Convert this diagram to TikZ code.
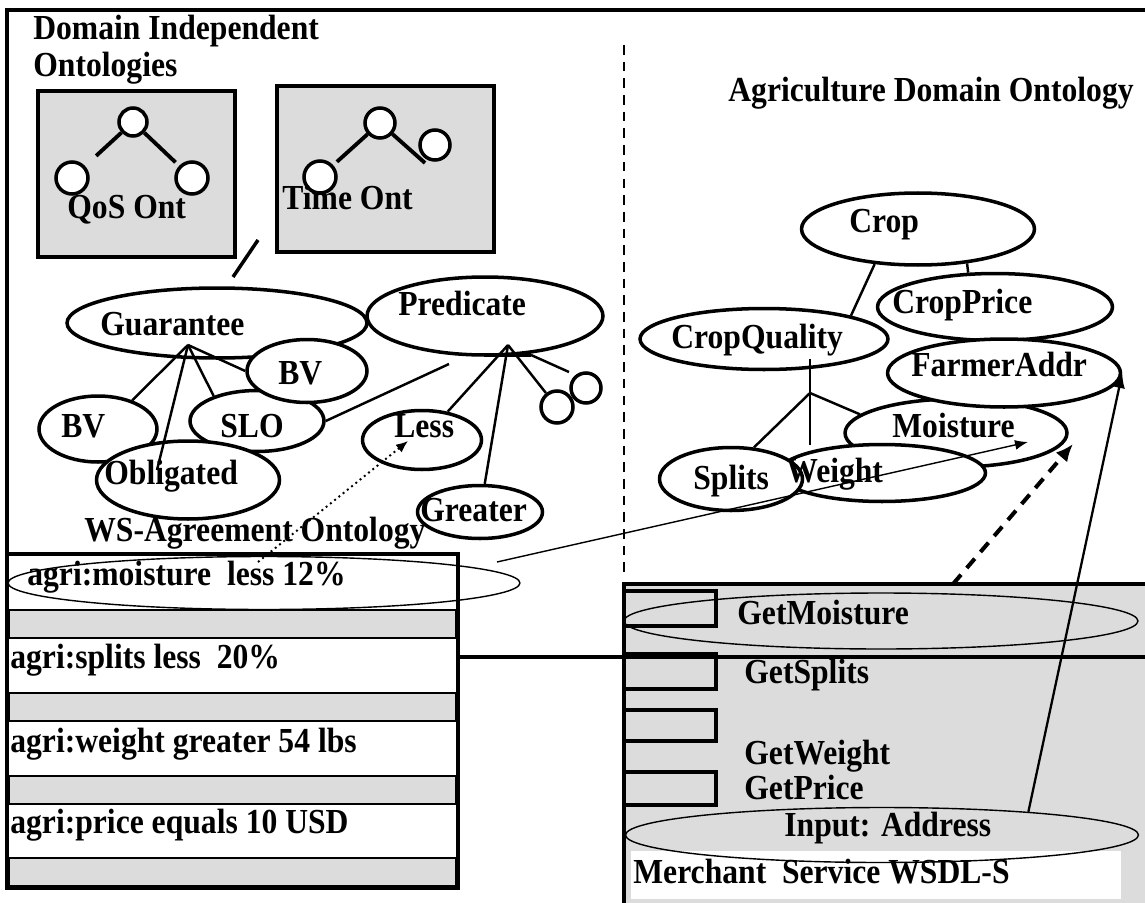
\documentclass[tikz,border=0pt]{standalone}
\usepackage{fontspec}
\setmainfont[FakeStretch=0.9]{Liberation Serif}
\usetikzlibrary{arrows.meta}
\usetikzlibrary{shapes.geometric}
\definecolor{boxgray}{RGB}{220,220,220}

\begin{document}
\begin{tikzpicture}[x=0.02cm, y=-0.02cm,
    lbl/.style={anchor=base west, inner sep=0pt, font=\bfseries\fontsize{20}{23}\selectfont},
    oval/.style 2 args={ellipse, draw, fill=white, line width=2pt, inner sep=0pt, minimum width=#1cm, minimum height=#2cm},
    thinoval/.style 2 args={ellipse, draw, line width=0.8pt, inner sep=0pt, minimum width=#1cm, minimum height=#2cm},
    onode/.style={circle, draw, fill=white, line width=2pt, inner sep=0pt, minimum size=#1cm},
    ontobox/.style={draw, fill=boxgray, line width=2.3pt},
    link/.style={line width=1.4pt},
    frame/.style={line width=2.3pt}
  ]
    \useasboundingbox (0,0) rectangle (1145,902);

    \draw[frame] (7,554) -- (7,10) -- (1150,10);
    \coordinate (dv-top) at (624,45);
    \coordinate (dv-bot) at (624,577);
    \draw[line width=0.9pt, dash pattern=on 5.5pt off 4pt] (dv-top) -- (dv-bot);

    \node[lbl] (dio1) at (33,40) {Domain Independent};
    \node[lbl] (dio2) at (33,77) {Ontologies};
    \node[lbl] (ado) at (728,102) {Agriculture Domain Ontology};

    \draw[ontobox] (38,91) rectangle (235,257);
    \draw[ontobox] (277,86) rectangle (494,252);
    \node[onode=0.56] (q0) at (133,122) {};
    \node[onode=0.64] (q1) at (72,178) {};
    \node[onode=0.64] (q2) at (192,178) {};
    \draw[line width=2.2pt, shorten >=0.3cm] (q0) -- (q1);
    \draw[line width=2.2pt, shorten >=0.1cm] (q0) -- (q2);
    \node[onode=0.6] (t0) at (380,123) {};
    \node[onode=0.64] (t1) at (320,177) {};
    \node[onode=0.6] (t2) at (435,145) {};
    \coordinate (t2foot) at (425,163);
    \draw[line width=2.2pt, shorten >=0.1cm] (t0) -- (t1);
    \draw[line width=2.2pt] (t0) -- (t2foot);
    \node[lbl] (qos-l) at (67,218) {QoS Ont};
    \node[lbl] (time-l) at (282,210) {Time Ont};
    \coordinate (sl-a) at (258,240);
    \coordinate (sl-b) at (233,277);
    \draw[line width=2pt] (sl-a) -- (sl-b);

    \node[oval={6.0}{1.4}] (guar) at (217,323) {};
    \node[oval={4.72}{1.56}] (pred) at (485,316) {};
    \node[oval={2.68}{1.22}] (slo) at (257,421) {};
    \node[oval={2.36}{1.32}] (bvl) at (98,429) {};
    \node[oval={2.4}{1.26}] (bvu) at (307,371) {};
    \node[oval={3.66}{1.56}] (obl) at (188,480) {};
    \node[oval={2.38}{1.18}] (less) at (422,440) {};
    \node[oval={2.5}{1.06}] (grt) at (480,512) {};
    \node[onode=0.64] (c1) at (557,407) {};
    \node[onode=0.6] (c2) at (586,388) {};

    \coordinate (gapex) at (188,345);
    \coordinate (obl-in) at (157,470);
    \draw[link] (gapex) -- (bvl.40);
    \draw[link] (gapex) -- (obl-in);
    \draw[link] (gapex) -- (slo.150);
    \draw[link] (gapex) -- (bvu.west);
    \coordinate (papex) at (508,345);
    \coordinate (pbar-l) at (484,355);
    \coordinate (pbar-r) at (531,355);
    \coordinate (c2-in) at (569,372);
    \coordinate (sp-end) at (449,364);
    \draw[link] (papex) -- (less);
    \draw[link] (papex) -- (grt);
    \draw[link] (papex) -- (c1);
    \draw[frame] (pbar-l) -- (pbar-r);
    \draw[link] (pbar-r) -- (c2-in);
    \draw[link] (slo.east) -- (sp-end);

    \node[lbl] (guar-l) at (100,335) {Guarantee};
    \node[lbl] (pred-l) at (398,315) {Predicate};
    \node[lbl] (bvu-l) at (278,384) {BV};
    \node[lbl] (bvl-l) at (61,437) {BV};
    \node[lbl] (slo-l) at (220,437) {SLO};
    \node[lbl] (obl-l) at (104,484) {Obligated};
    \node[lbl] (less-l) at (394,437) {Less};
    \node[lbl] (grt-l) at (420,521) {Greater};
    \node[lbl] (wsa-l) at (84,541) {WS-Agreement Ontology};

    \node[oval={4.66}{1.44}] (crop) at (918,229) {};
    \node[oval={4.96}{1.22}] (cqual) at (764,339) {};
    \node[oval={4.7}{1.34}] (cprice) at (995,307) {};
    \node[oval={4.44}{1.36}] (moist) at (956,433) {};
    \node[oval={4.66}{1.36}] (farmer) at (1004,373) {};
    \node[oval={4.14}{1.14}] (weight) at (882,473) {};
    \node[oval={2.86}{1.26}] (splits) at (731,479) {};

    \coordinate (cq-top) at (810,359);
    \coordinate (cq-mid) at (810,393);
    \coordinate (cq-bot) at (810,445);
    \draw[link] (crop.219) -- (cqual.15);
    \draw[link] (crop.325) -- (cprice.128);
    \draw[link] (cq-top) -- (cq-bot);
    \draw[link] (cq-mid) -- (splits.54);
    \draw[link] (cq-mid) -- (moist.169);

    \node[lbl] (crop-l) at (849,233) {Crop};
    \node[lbl] (cprice-l) at (892,313) {CropPrice};
    \node[lbl] (cqual-l) at (671,348) {CropQuality};
    \node[lbl] (farmer-l) at (911,376) {FarmerAddr};
    \node[lbl] (moist-l) at (892,437) {Moisture};
    \node[lbl] (weight-l) at (786,482) {Weight};
    \node[lbl] (splits-l) at (693,489) {Splits};

    \draw[line width=2pt] (7,554) rectangle (458,888);
    \draw[fill=boxgray, line width=1pt] (9,610) rectangle (456,638);
    \draw[fill=boxgray, line width=1pt] (9,693) rectangle (456,721);
    \draw[fill=boxgray, line width=1pt] (9,776) rectangle (456,804);
    \draw[fill=boxgray, line width=1pt] (9,858) rectangle (456,886);
    \node[lbl] (row1) at (27,585) {agri:moisture~ less 12\%};
    \node[lbl] (row2) at (10,668) {agri:splits less~ 20\%};
    \node[lbl] (row3) at (10,752) {agri:weight greater 54 lbs};
    \node[lbl] (row4) at (10,833) {agri:price equals 10 USD};
    \node[thinoval={10.24}{1.06}] (agri) at (264,583) {};

    \fill[boxgray] (624,584) rectangle (1150,905);
    \fill[white] (631,851) rectangle (1121,899);
    \draw[frame] (624,905) -- (624,584) -- (1150,584);
    \draw[frame] (624,591) rectangle (716,626);
    \draw[frame] (624,654) rectangle (716,689);
    \draw[frame] (624,710) rectangle (716,741);
    \draw[frame] (624,772) rectangle (716,805);
    \draw[frame] (458,657) -- (1150,657);
    \node[lbl] (getm-l) at (737,624) {GetMoisture};
    \node[lbl] (gets-l) at (744,683) {GetSplits};
    \node[lbl] (getw-l) at (744,764) {GetWeight};
    \node[lbl] (getp-l) at (744,799) {GetPrice};
    \node[lbl] (input-l) at (784,836) {Input: Address};
    \node[lbl] (merch-l) at (633,883) {Merchant~ Service WSDL-S};
    \node[thinoval={10.28}{1.12}] (getm) at (881,621) {};
    \node[thinoval={10.26}{1.1}] (input) at (882,835) {};

    \coordinate (agri-out) at (497,562);
    \coordinate (moist-in) at (1028,442);
    \coordinate (dot-start) at (258,562);
    \coordinate (less-in) at (408,441);
    \coordinate (dash-start) at (953,584);
    \coordinate (dash-end) at (1073,444);
    \draw[line width=0.8pt, -{Latex[length=2.6mm,width=2mm]}] (agri-out) -- (moist-in);
    \draw[line width=1.1pt, dotted, -{Latex[length=2.4mm,width=2mm]}] (dot-start) -- (less-in);
    \draw[line width=2.3pt, dash pattern=on 7pt off 5pt, -{Latex[length=3.5mm,width=3mm]}] (dash-start) -- (dash-end);
    \draw[line width=1.3pt, -{Latex[length=3mm,width=2.4mm]}] (input.9) -- (farmer.east);
\end{tikzpicture}
\end{document}
